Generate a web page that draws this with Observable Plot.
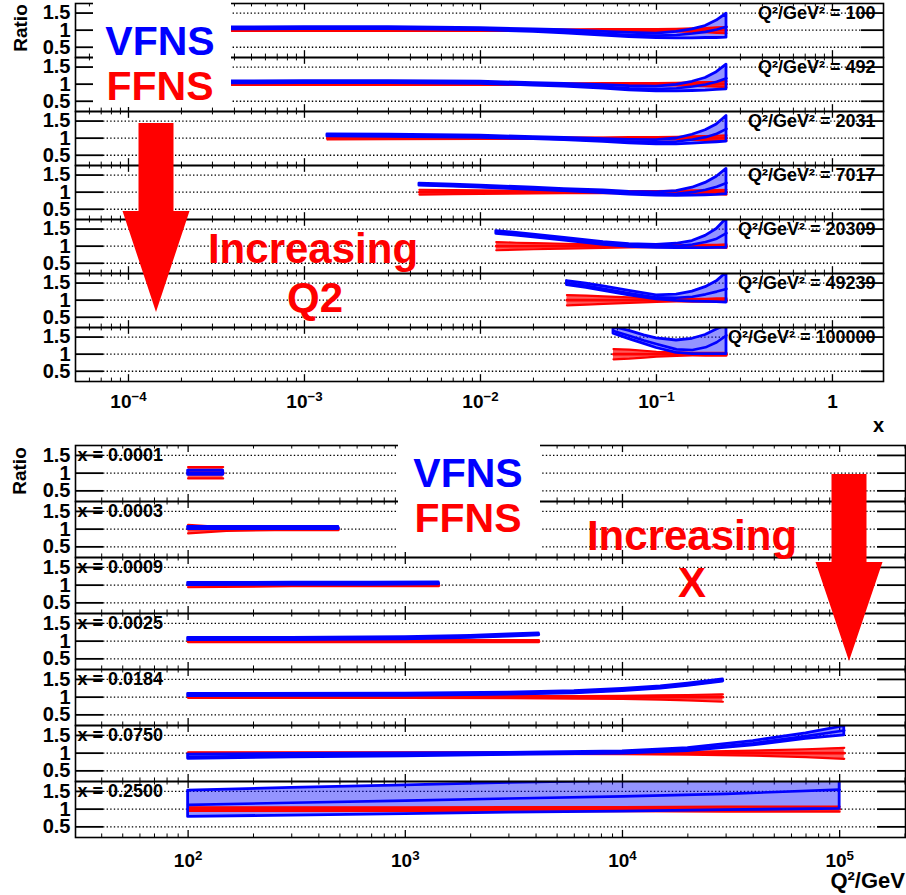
<!DOCTYPE html>
<html><head><meta charset="utf-8">
<script src="https://cdn.jsdelivr.net/npm/d3@7"></script>
<script src="https://cdn.jsdelivr.net/npm/@observablehq/plot@0.6"></script>
<style>
body{margin:0;background:#fff;}
#wrap{position:relative;width:906px;height:895px;overflow:hidden;background:#fff;}
#wrap > svg, #wrap > div{position:absolute;left:0;}
</style></head><body><div id="wrap"></div>
<script>
// ---------- DATA ----------
const ffnsRef = 1;
const ratioTicks = [0.5, 1, 1.5];
const ratioTickLabels = ["0.5", "1", "1.5"];

// Top: ratio vs x, one panel per Q^2
const topQ2 = [100, 492, 2031, 7017, 20309, 49239, 100000];
const topTicks = [1e-4, 1e-3, 1e-2, 1e-1, 1];
const topTickLabels = ["10^−4", "10^−3", "10^−2", "10^−1", "1"];
const topX = [
  [3.85e-4, 1e-3, 3e-3, 0.01, 0.02, 0.03, 0.05, 0.07, 0.1, 0.13, 0.16, 0.19, 0.22, 0.25],
  [3.85e-4, 1e-3, 3e-3, 0.01, 0.02, 0.03, 0.05, 0.07, 0.1, 0.13, 0.16, 0.19, 0.22, 0.25],
  [1.35e-3, 3e-3, 0.01, 0.02, 0.03, 0.05, 0.07, 0.1, 0.13, 0.16, 0.19, 0.22, 0.25],
  [4.5e-3, 0.007, 0.01, 0.02, 0.03, 0.05, 0.07, 0.1, 0.13, 0.16, 0.19, 0.22, 0.25],
  [0.0123, 0.016, 0.02, 0.03, 0.05, 0.07, 0.1, 0.13, 0.16, 0.19, 0.22, 0.25],
  [0.031, 0.04, 0.05, 0.07, 0.1, 0.13, 0.16, 0.19, 0.22, 0.25],
  [0.057, 0.07, 0.085, 0.1, 0.13, 0.16, 0.19, 0.22, 0.25]
];
const topVfns = [
  [1.05, 1.06, 1.06, 1.03, 0.99, 0.96, 0.90, 0.86, 0.84, 0.86, 0.90, 0.95, 1.02, 1.10],
  [1.05, 1.06, 1.06, 1.04, 1.00, 0.97, 0.92, 0.88, 0.86, 0.88, 0.93, 0.99, 1.07, 1.17],
  [1.08, 1.07, 1.04, 1.00, 0.97, 0.93, 0.90, 0.88, 0.90, 0.96, 1.03, 1.13, 1.27],
  [1.22, 1.19, 1.16, 1.10, 1.06, 1.01, 0.97, 0.94, 0.95, 1.00, 1.07, 1.16, 1.27],
  [1.40, 1.35, 1.30, 1.20, 1.08, 1.02, 0.99, 1.00, 1.05, 1.12, 1.22, 1.38],
  [1.50, 1.42, 1.33, 1.20, 1.08, 1.07, 1.10, 1.17, 1.25, 1.33],
  [1.68, 1.54, 1.40, 1.30, 1.14, 1.12, 1.20, 1.35, 1.55]
];
const topVfnsLow = [
  [1.02, 1.03, 1.03, 1.00, 0.95, 0.91, 0.84, 0.80, 0.77, 0.76, 0.76, 0.77, 0.77, 0.78],
  [1.02, 1.03, 1.03, 1.01, 0.96, 0.93, 0.87, 0.82, 0.79, 0.79, 0.80, 0.81, 0.83, 0.85],
  [1.05, 1.04, 1.01, 0.97, 0.94, 0.89, 0.85, 0.82, 0.82, 0.84, 0.86, 0.88, 0.90],
  [1.19, 1.16, 1.13, 1.07, 1.03, 0.97, 0.93, 0.90, 0.89, 0.90, 0.91, 0.92, 0.94],
  [1.36, 1.31, 1.26, 1.16, 1.04, 0.98, 0.95, 0.94, 0.94, 0.94, 0.95, 0.95],
  [1.44, 1.36, 1.27, 1.14, 1.02, 0.98, 0.96, 0.95, 0.94, 0.93],
  [1.60, 1.44, 1.30, 1.18, 1.04, 1.00, 1.00, 1.00, 1.00]
];
const topVfnsHigh = [
  [1.08, 1.09, 1.09, 1.06, 1.02, 1.00, 0.95, 0.92, 0.90, 0.95, 1.02, 1.12, 1.28, 1.48],
  [1.08, 1.09, 1.09, 1.07, 1.03, 1.01, 0.97, 0.94, 0.93, 0.98, 1.07, 1.18, 1.35, 1.57],
  [1.11, 1.10, 1.07, 1.03, 1.01, 0.97, 0.95, 0.94, 0.99, 1.10, 1.23, 1.40, 1.65],
  [1.25, 1.22, 1.19, 1.13, 1.09, 1.05, 1.01, 0.99, 1.03, 1.13, 1.27, 1.45, 1.68],
  [1.44, 1.39, 1.34, 1.24, 1.12, 1.06, 1.04, 1.07, 1.15, 1.30, 1.50, 1.80],
  [1.56, 1.48, 1.40, 1.27, 1.14, 1.16, 1.25, 1.38, 1.55, 1.80],
  [1.80, 1.68, 1.55, 1.46, 1.40, 1.45, 1.56, 1.72, 1.85]
];
const topFfnsLow = [
  [0.98, 0.98, 0.98, 0.98, 0.98, 0.98, 0.97, 0.97, 0.97, 0.96, 0.95, 0.94, 0.92, 0.91],
  [0.98, 0.98, 0.98, 0.98, 0.98, 0.98, 0.97, 0.97, 0.97, 0.96, 0.95, 0.94, 0.93, 0.91],
  [0.96, 0.97, 0.98, 0.98, 0.98, 0.98, 0.97, 0.97, 0.96, 0.95, 0.94, 0.93, 0.92],
  [0.93, 0.94, 0.95, 0.96, 0.97, 0.97, 0.97, 0.97, 0.96, 0.95, 0.95, 0.94, 0.93],
  [0.88, 0.90, 0.91, 0.93, 0.95, 0.96, 0.97, 0.97, 0.97, 0.96, 0.96, 0.95],
  [0.85, 0.87, 0.89, 0.92, 0.95, 0.96, 0.96, 0.96, 0.95, 0.95],
  [0.85, 0.87, 0.90, 0.93, 0.95, 0.96, 0.96, 0.96, 0.96]
];
const topFfnsHigh = [
  [1.02, 1.02, 1.02, 1.02, 1.02, 1.02, 1.03, 1.03, 1.03, 1.04, 1.05, 1.06, 1.08, 1.09],
  [1.02, 1.02, 1.02, 1.02, 1.02, 1.02, 1.03, 1.03, 1.03, 1.04, 1.05, 1.06, 1.07, 1.09],
  [1.04, 1.03, 1.02, 1.02, 1.02, 1.02, 1.03, 1.03, 1.04, 1.05, 1.06, 1.07, 1.08],
  [1.07, 1.06, 1.05, 1.04, 1.03, 1.03, 1.03, 1.03, 1.04, 1.05, 1.05, 1.06, 1.07],
  [1.12, 1.10, 1.09, 1.07, 1.05, 1.04, 1.03, 1.03, 1.03, 1.04, 1.04, 1.05],
  [1.15, 1.13, 1.11, 1.08, 1.05, 1.04, 1.04, 1.04, 1.05, 1.05],
  [1.15, 1.13, 1.10, 1.07, 1.05, 1.04, 1.04, 1.04, 1.04]
];

// Bottom: ratio vs Q^2, one panel per x
const botXBins = [0.0001, 0.0003, 0.0009, 0.0025, 0.0184, 0.0750, 0.2500];
const botTicks = [1e2, 1e3, 1e4, 1e5];
const botTickLabels = ["10^2", "10^3", "10^4", "10^5"];
const botQ2 = [
  [100, 145],
  [100, 150, 250, 492],
  [100, 300, 700, 1426],
  [100, 300, 1000, 2000, 3000, 4120],
  [100, 1000, 3000, 6000, 10000, 15000, 20000, 29000],
  [100, 300, 1000, 3000, 10000, 20000, 40000, 70000, 105000],
  [100, 300, 1000, 3000, 10000, 30000, 100000]
];
const botVfns = [
  [1.01, 1.01],
  [1.03, 1.03, 1.03, 1.03],
  [1.03, 1.04, 1.04, 1.05],
  [1.06, 1.06, 1.08, 1.12, 1.16, 1.19],
  [1.06, 1.07, 1.10, 1.14, 1.20, 1.27, 1.35, 1.47],
  [0.90, 0.93, 0.95, 0.98, 1.02, 1.10, 1.28, 1.48, 1.64],
  [1.12, 1.18, 1.24, 1.30, 1.36, 1.43, 1.55]
];
const botVfnsLow = [
  [0.95, 0.95],
  [1.00, 1.00, 1.00, 1.00],
  [1.00, 1.01, 1.01, 1.02],
  [1.03, 1.03, 1.05, 1.09, 1.13, 1.16],
  [1.03, 1.04, 1.07, 1.11, 1.17, 1.24, 1.32, 1.44],
  [0.84, 0.88, 0.91, 0.95, 0.99, 1.06, 1.22, 1.40, 1.50],
  [0.78, 0.82, 0.86, 0.90, 0.93, 0.97, 1.01]
];
const botVfnsHigh = [
  [1.07, 1.07],
  [1.06, 1.06, 1.06, 1.06],
  [1.06, 1.07, 1.07, 1.08],
  [1.09, 1.09, 1.11, 1.15, 1.19, 1.22],
  [1.09, 1.10, 1.13, 1.17, 1.23, 1.30, 1.38, 1.50],
  [0.96, 0.98, 0.99, 1.01, 1.05, 1.14, 1.34, 1.56, 1.76],
  [1.52, 1.60, 1.67, 1.74, 1.80, 1.85, 1.85]
];
const botFfnsLow = [
  [0.85, 0.85],
  [0.88, 0.95, 0.97, 0.97],
  [0.94, 0.97, 0.97, 0.97],
  [0.97, 0.97, 0.97, 0.97, 0.97, 0.97],
  [0.98, 0.98, 0.97, 0.96, 0.95, 0.93, 0.91, 0.87],
  [0.98, 0.98, 0.98, 0.98, 0.97, 0.96, 0.93, 0.89, 0.84],
  [0.95, 0.95, 0.95, 0.94, 0.94, 0.93, 0.93]
];
const botFfnsHigh = [
  [1.17, 1.17],
  [1.12, 1.05, 1.03, 1.03],
  [1.06, 1.03, 1.03, 1.03],
  [1.03, 1.03, 1.03, 1.03, 1.03, 1.03],
  [1.02, 1.02, 1.03, 1.03, 1.04, 1.05, 1.06, 1.08],
  [1.02, 1.02, 1.02, 1.02, 1.03, 1.04, 1.07, 1.11, 1.15],
  [1.05, 1.05, 1.05, 1.06, 1.06, 1.07, 1.07]
];

// ---------- HELPERS ----------
const FONT = "'Liberation Sans', Arial, Helvetica, sans-serif";
const yDomain = [0.2, 1.78];
const BLUE = "#0000ff", RED = "#ff0000";

function buildRows(keys, xs, mid, lo, hi, flo, fhi) {
  const out = [];
  keys.forEach((k, i) => xs[i].forEach((x, j) => out.push({
    key: k, x, mid: mid[i][j], lo: lo[i][j], hi: hi[i][j], flo: flo[i][j], fhi: fhi[i][j], f: ffnsRef
  })));
  return out;
}
function minorTicks(domain) {
  const out = [];
  for (let e = Math.floor(Math.log10(domain[0])); e <= Math.ceil(Math.log10(domain[1])); e++)
    for (let m = 2; m <= 9; m++) { const v = m * Math.pow(10, e); if (v > domain[0] && v < domain[1]) out.push(v); }
  return out;
}
function superscripts(svg) {
  const ns = "http://www.w3.org/2000/svg";
  svg.querySelectorAll('g[aria-label="x-axis tick label"] text').forEach(t => {
    const s = t.textContent;
    if (!s.includes("^")) return;
    const [b, e] = s.split("^");
    t.textContent = "";
    const t1 = document.createElementNS(ns, "tspan"); t1.textContent = b;
    const t2 = document.createElementNS(ns, "tspan");
    t2.setAttribute("dy", "-0.55em"); t2.setAttribute("font-size", "0.7em"); t2.textContent = e;
    t.append(t1, t2);
  });
}

function makePanel(cfg) {
  const fw = cfg.width - cfg.marginLeft - cfg.marginRight;
  const [yb, yt] = yDomain;
  const majors = cfg.ticks;
  const minors = minorTicks(cfg.xDomain);
  const rows = cfg.rows;
  const svg = Plot.plot({
    width: cfg.width, height: cfg.height,
    marginTop: cfg.marginTop, marginBottom: cfg.marginBottom,
    marginLeft: cfg.marginLeft, marginRight: cfg.marginRight,
    style: {fontFamily: FONT, background: "transparent", overflow: "visible", color: "#000"},
    x: {type: "log", domain: cfg.xDomain},
    y: {domain: yDomain},
    fy: {domain: cfg.keys, padding: 0, axis: null},
    marks: [
      Plot.ruleY(ratioTicks, {insetLeft: 28, insetRight: cfg.rightTick, stroke: "#000", strokeWidth: 1.3, strokeDasharray: "1.4,2.2"}),
      Plot.ruleY(ratioTicks, {insetRight: fw - 28, stroke: "#000", strokeWidth: 1.8}),
      Plot.ruleY(ratioTicks, {insetLeft: fw - cfg.rightTick, stroke: "#000", strokeWidth: 1.8}),
      Plot.ruleX(majors, {y1: yt, y2: yt - 0.2, stroke: "#000", strokeWidth: 1.3}),
      Plot.ruleX(minors, {y1: yt, y2: yt - 0.1, stroke: "#000", strokeWidth: 1}),
      Plot.ruleX(majors, {y1: yb, y2: yb + 0.2, stroke: "#000", strokeWidth: 1.3}),
      Plot.ruleX(minors, {y1: yb, y2: yb + 0.1, stroke: "#000", strokeWidth: 1}),
      // VFNS band fill
      Plot.areaY(rows, {x: "x", y1: "lo", y2: "hi", fy: "key", fill: BLUE, fillOpacity: 0.42, clip: "frame"}),
      // FFNS band
      Plot.areaY(rows, {x: "x", y1: "flo", y2: "fhi", fy: "key", fill: RED, fillOpacity: 0.65, clip: "frame"}),
      Plot.lineY(rows, {x: "x", y: "flo", fy: "key", stroke: RED, strokeWidth: 2.2, clip: "frame"}),
      Plot.lineY(rows, {x: "x", y: "fhi", fy: "key", stroke: RED, strokeWidth: 2.2, clip: "frame"}),
      Plot.lineY(rows, {x: "x", y: "f", fy: "key", stroke: RED, strokeWidth: 2.8, clip: "frame"}),
      // VFNS outlines
      Plot.areaY(rows, {x: "x", y1: "lo", y2: "hi", fy: "key", fill: "none", stroke: BLUE, strokeWidth: 2.8, clip: "frame"}),
      Plot.lineY(rows, {x: "x", y: "mid", fy: "key", stroke: BLUE, strokeWidth: 2.6, clip: "frame"}),
      Plot.frame({stroke: "#000", strokeWidth: 1.6}),
      Plot.axisY(ratioTicks, {tickSize: 0, tickPadding: 5, fontSize: 20, fontWeight: "bold", label: null,
        tickFormat: d => ratioTickLabels[ratioTicks.indexOf(d)]}),
      Plot.axisX(majors, {tickSize: 0, tickPadding: cfg.tickPad, fontSize: 19, fontWeight: "bold", label: null,
        facetAnchor: "bottom", tickFormat: d => cfg.tickLabels[majors.indexOf(d)]}),
      cfg.labelMark
    ]
  });
  superscripts(svg);
  return svg;
}

// ---------- BUILD ----------
const wrap = document.getElementById("wrap");

const topRows = buildRows(topQ2, topX, topVfns, topVfnsLow, topVfnsHigh, topFfnsLow, topFfnsHigh);
const topSvg = makePanel({
  rows: topRows, keys: topQ2, xDomain: [5e-5, 1.95], ticks: topTicks, tickLabels: topTickLabels,
  width: 906, height: 440, marginTop: 1, marginBottom: 57, marginLeft: 75, marginRight: 23,
  rightTick: 22, tickPad: 13,
  labelMark: Plot.text(topQ2, {fy: d => d, y: 1.5, frameAnchor: "right", dx: -8, textAnchor: "end",
    text: d => `Q²/GeV² = ${d}`, fontSize: 18, fontWeight: "bold", fill: "#000"})
});
topSvg.style.top = "0px";
wrap.appendChild(topSvg);

const botRows = buildRows(botXBins, botQ2, botVfns, botVfnsLow, botVfnsHigh, botFfnsLow, botFfnsHigh);
const botSvg = makePanel({
  rows: botRows, keys: botXBins, xDomain: [30.3, 2.01e5], ticks: botTicks, tickLabels: botTickLabels,
  width: 906, height: 455, marginTop: 5, marginBottom: 58, marginLeft: 75, marginRight: 1,
  rightTick: 28, tickPad: 16,
  labelMark: Plot.text(botXBins, {fy: d => d, y: 1.5, frameAnchor: "left", dx: 2, textAnchor: "start",
    text: d => `x = ${d.toFixed(4)}`, fontSize: 18, fontWeight: "bold", fill: "#000"})
});
botSvg.style.top = "440px";
wrap.appendChild(botSvg);

// ---------- ANNOTATIONS ----------
function arrow(cx, top, shaftHalf, headY, headHalf, tipY) {
  return [[cx - shaftHalf, top], [cx + shaftHalf, top], [cx + shaftHalf, headY], [cx + headHalf, headY],
          [cx, tipY], [cx - headHalf, headY], [cx - shaftHalf, headY]].map(p => p.join(",")).join(" ");
}
const ov = `
<svg width="906" height="895" style="position:absolute;left:0;top:0;font-family:${FONT};font-weight:bold" xmlns="http://www.w3.org/2000/svg">
  <rect x="93" y="0" width="138" height="107" fill="#fff"/>
  <rect x="398" y="441" width="142" height="111" fill="#fff"/>
  <text x="160" y="55" text-anchor="middle" font-size="41" fill="${BLUE}">VFNS</text>
  <text x="160" y="100" text-anchor="middle" font-size="41" fill="${RED}">FFNS</text>
  <text x="468" y="487" text-anchor="middle" font-size="41" fill="${BLUE}">VFNS</text>
  <text x="468" y="532" text-anchor="middle" font-size="41" fill="${RED}">FFNS</text>
  <text x="313" y="263" text-anchor="middle" font-size="42" fill="${RED}">Increasing</text>
  <text x="315" y="312" text-anchor="middle" font-size="42" fill="${RED}">Q2</text>
  <text x="692" y="550" text-anchor="middle" font-size="42" fill="${RED}">Increasing</text>
  <text x="692" y="597" text-anchor="middle" font-size="42" fill="${RED}">X</text>
  <polygon points="${arrow(156, 123, 17.5, 211, 33.5, 312)}" fill="${RED}"/>
  <polygon points="${arrow(849, 474, 17.5, 562, 33.5, 661)}" fill="${RED}"/>
  <text transform="translate(27,28) rotate(-90)" text-anchor="middle" font-size="19" fill="#000">Ratio</text>
  <text transform="translate(26,471) rotate(-90)" text-anchor="middle" font-size="19" fill="#000">Ratio</text>
  <text x="884" y="432" text-anchor="end" font-size="20" fill="#000">x</text>
  <text x="905" y="888" text-anchor="end" font-size="22" fill="#000">Q²/GeV</text>
</svg>`;
wrap.insertAdjacentHTML("beforeend", ov);
</script></body></html>
